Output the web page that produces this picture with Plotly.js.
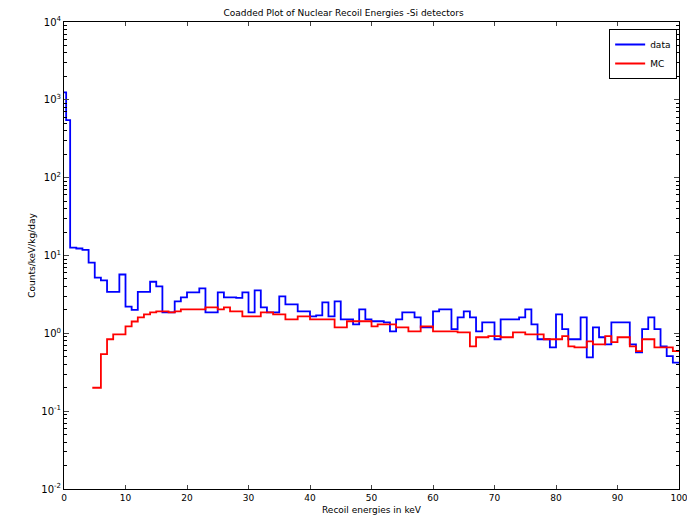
<!DOCTYPE html>
<html>
<head>
<meta charset="utf-8">
<script src="https://cdn.plot.ly/plotly-3.0.1.min.js"></script>
<style>html,body{margin:0;padding:0;background:#fff;}#chart{width:687px;height:522px;}</style>
</head>
<body>
<div id="chart"></div>
<script>
// Bin left edges (keV); first data bin is split by a narrow spike at threshold
const dataEdges = [0, 0.35, 1, 2, 3, 4, 5, 6, 7, 8, 9, 10, 11, 12, 13, 14, 15, 16, 17, 18, 19,
  20, 21, 22, 23, 24, 25, 26, 27, 28, 29, 30, 31, 32, 33, 34, 35, 36, 37, 38, 39,
  40, 41, 42, 43, 44, 45, 46, 47, 48, 49, 50, 51, 52, 53, 54, 55, 56, 57, 58, 59,
  60, 61, 62, 63, 64, 65, 66, 67, 68, 69, 70, 71, 72, 73, 74, 75, 76, 77, 78, 79,
  80, 81, 82, 83, 84, 85, 86, 87, 88, 89, 90, 91, 92, 93, 94, 95, 96, 97, 98, 99, 100];
const dataValues = [1250, 550, 12.6, 12.3, 11.8, 8.1, 5.2, 4.8, 3.4, 3.4, 5.7,
  2.2, 2.0, 3.4, 3.4, 4.6, 4.0, 1.86, 1.86, 2.57, 2.9,
  3.36, 3.36, 3.78, 1.86, 1.86, 3.36, 2.9, 2.9, 2.85, 3.36,
  1.86, 3.56, 2.15, 1.86, 1.86, 2.98, 2.35, 2.35, 1.91, 1.91,
  1.65, 1.7, 2.5, 1.65, 2.57, 1.51, 1.51, 1.3, 2.03, 1.51,
  1.43, 1.43, 1.38, 1.06, 1.51, 1.86, 1.86, 1.6, 1.19, 1.19,
  1.91, 2.03, 2.03, 1.13, 1.6, 1.91, 1.6, 1.06, 1.38, 1.38,
  0.84, 1.51, 1.51, 1.51, 1.6, 2.03, 1.3, 0.84, 0.84, 0.66,
  1.75, 1.13, 0.84, 0.84, 1.6, 0.49, 1.19, 0.89, 0.72, 1.38,
  1.38, 1.38, 0.72, 0.57, 1.13, 1.6, 1.13, 0.68, 0.51, 0.42];

const mcEdges = [4.6, 6, 7, 8, 9, 10, 11, 12, 13, 14, 15, 16, 17, 18, 19,
  20, 21, 22, 23, 24, 25, 26, 27, 28, 29, 30, 31, 32, 33, 34, 35, 36, 37, 38, 39,
  40, 41, 42, 43, 44, 45, 46, 47, 48, 49, 50, 51, 52, 53, 54, 55, 56, 57, 58, 59,
  60, 61, 62, 63, 64, 65, 66, 67, 68, 69, 70, 71, 72, 73, 74, 75, 76, 77, 78, 79,
  80, 81, 82, 83, 84, 85, 86, 87, 88, 89, 90, 91, 92, 93, 94, 95, 96, 97, 98, 99, 100];
const mcValues = [0.2, 0.54, 0.84, 0.97, 0.97, 1.23, 1.42, 1.6, 1.75, 1.86,
  1.91, 1.91, 1.86, 1.91, 2.03, 2.03, 2.03, 2.03, 2.15, 2.15,
  2.03, 2.15, 1.91, 1.91, 1.65, 1.65, 1.65, 1.86, 1.86, 1.75,
  1.75, 1.51, 1.51, 1.65, 1.65, 1.51, 1.51, 1.51, 1.51, 1.19,
  1.19, 1.43, 1.43, 1.43, 1.43, 1.23, 1.3, 1.3, 1.3, 1.19,
  1.19, 1.06, 1.06, 1.23, 1.23, 1.06, 1.06, 1.06, 1.06, 1.03,
  1.03, 0.68, 0.89, 0.89, 0.92, 0.92, 0.89, 0.89, 1.03, 1.03,
  0.97, 0.97, 0.97, 0.84, 0.84, 0.84, 0.92, 0.68, 0.66, 0.66,
  0.79, 0.72, 0.72, 0.92, 0.77, 0.89, 0.89, 0.68, 0.59, 0.84,
  0.84, 0.66, 0.66, 0.66, 0.59];

const yTickVals = [0.01, 0.1, 1, 10, 100, 1000, 10000];
const yTickText = ['10<sup>-2</sup>', '10<sup>-1</sup>', '10<sup>0</sup>', '10<sup>1</sup>', '10<sup>2</sup>', '10<sup>3</sup>', '10<sup>4</sup>'];
const xTickVals = [0, 10, 20, 30, 40, 50, 60, 70, 80, 90, 100];

// minor log tick positions (2..9 within each decade)
const yMinorVals = [];
for (let e = -2; e < 4; e++) for (let m = 2; m <= 9; m++) yMinorVals.push(m * Math.pow(10, e));

// close the step outline: repeat last value at the final edge
const dataY = dataValues.concat([dataValues[dataValues.length - 1]]);
const mcY = mcValues.concat([mcValues[mcValues.length - 1]]);

const font = {family: 'DejaVu Sans, sans-serif', size: 9, color: '#000'};

const traces = [
  {x: dataEdges, y: dataY, type: 'scatter', mode: 'lines', name: 'data',
   line: {shape: 'hv', color: '#0000ff', width: 1.8}},
  {x: mcEdges, y: mcY, type: 'scatter', mode: 'lines', name: 'MC', yaxis: 'y2',
   line: {shape: 'hv', color: '#ff0000', width: 1.8}}
];

const layout = {
  width: 687, height: 522,
  margin: {l: 64, r: 8, t: 22, b: 33},
  paper_bgcolor: '#fff', plot_bgcolor: '#fff',
  font: font,
  title: {text: 'Coadded Plot of Nuclear Recoil Energies -Si detectors', font: {family: 'DejaVu Sans, sans-serif', size: 9},
          x: 0.5, xanchor: 'center', y: 0.982, yanchor: 'top'},
  showlegend: true,
  legend: {x: 0.997, y: 0.985, xanchor: 'right', yanchor: 'top', bgcolor: '#fff',
           bordercolor: '#000', borderwidth: 1, font: {family: 'DejaVu Sans, sans-serif', size: 9},
           itemwidth: 30, tracegroupgap: 0},
  xaxis: {range: [0, 100], tickvals: xTickVals, ticks: 'inside', ticklen: 4, mirror: 'ticks',
          showline: true, linecolor: '#000', linewidth: 1, showgrid: false, zeroline: false,
          tickfont: font, ticklabeloverflow: 'allow',
          title: {text: 'Recoil energies in keV', font: font, standoff: 4}},
  yaxis: {type: 'log', range: [-2, 4], tickvals: yTickVals, ticktext: yTickText,
          ticks: 'inside', ticklen: 5, mirror: 'ticks', showline: true, linecolor: '#000', linewidth: 1,
          showgrid: false, zeroline: false, tickfont: {family: 'DejaVu Sans, sans-serif', size: 10},
          title: {text: 'Counts/keV/kg/day', font: font, standoff: 4}},
  yaxis2: {type: 'log', range: [-2, 4], overlaying: 'y', side: 'left', tickmode: 'array', tickvals: yMinorVals,
           ticktext: yMinorVals.map(() => ''), ticks: 'inside', ticklen: 3, tickwidth: 1, tickcolor: '#000',
           mirror: 'ticks', showline: false, showgrid: false, zeroline: false, showticklabels: false}
};

Plotly.newPlot('chart', traces, layout, {displayModeBar: false, staticPlot: true});
</script>
</body>
</html>
